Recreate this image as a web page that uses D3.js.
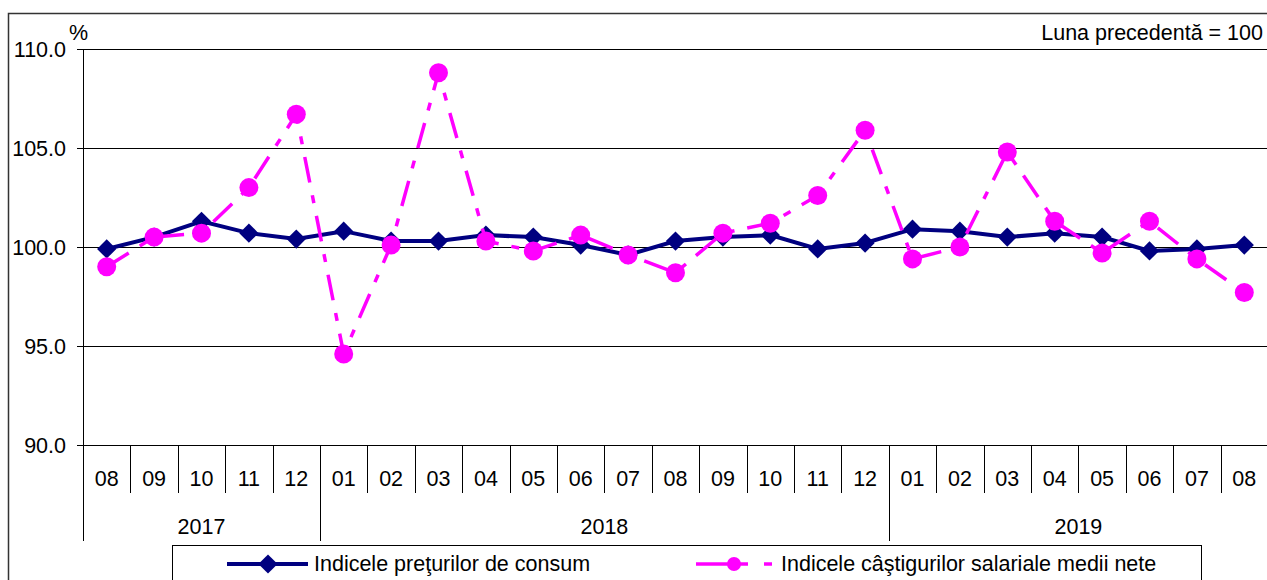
<!DOCTYPE html>
<meta charset="utf-8">
<script src="https://d3js.org/d3.v7.min.js"></script>
<style>
  body { margin: 0; background: #fff; }
  text { font-family: "Liberation Sans", Arial, sans-serif; font-size: 21.5px; fill: #000; }
</style>
<div id="chart"></div>
<script>

  // months shown on the axis, grouped by year
  var months = ["08","09","10","11","12",
                "01","02","03","04","05","06","07","08","09","10","11","12",
                "01","02","03","04","05","06","07","08"];
  var years = ["2017", "2018", "2019"];
  var monthsPerYear = [5, 12, 8];

  // Indicele preturilor de consum
  var cpi = [99.9, 100.5, 101.3, 100.7, 100.4,
             100.8, 100.3, 100.3, 100.6, 100.5, 100.1, 99.6, 100.3, 100.5, 100.6, 99.9, 100.2,
             100.9, 100.8, 100.5, 100.7, 100.5, 99.8, 99.9, 100.1];

  // Indicele castigurilor salariale medii nete
  var wages = [99.0, 100.5, 100.7, 103.0, 106.7,
               94.6, 100.1, 108.8, 100.3, 99.8, 100.6, 99.6, 98.7, 100.7, 101.2, 102.6, 105.9,
               99.4, 100.0, 104.8, 101.3, 99.7, 101.3, 99.4, 97.7];

  var yTicks = [90, 95, 100, 105, 110];
  var seriesNames = ["Indicele preţurilor de consum", "Indicele câştigurilor salariale medii nete"];

  var W = 1267, H = 580;
  var plotLeft = 83, plotRight = 1268, plotTop = 49, plotBottom = 445;

  var svg = d3.select("#chart").append("svg")
    .attr("width", W).attr("height", H);

  // outer frame
  svg.append("path")
    .attr("d", "M8.5," + H + "V13.5H" + W)
    .attr("fill", "none").attr("stroke", "#333").attr("stroke-width", 1.5);

  var keys = months.map(function(m, i) { return i; });
  var x = d3.scaleBand().domain(keys).range([plotLeft, plotRight]);
  var y = d3.scaleLinear().domain([90, 110]).range([plotBottom, plotTop]);

  // grid lines
  svg.append("g").selectAll("line")
    .data(yTicks).enter().append("line")
      .attr("x1", plotLeft - 6).attr("x2", plotRight)
      .attr("y1", function(d) { return Math.round(y(d)) + 0.5; })
      .attr("y2", function(d) { return Math.round(y(d)) + 0.5; })
      .attr("stroke", "#000").attr("stroke-width", 1);

  // y labels
  svg.append("g").selectAll("text")
    .data(yTicks).enter().append("text")
      .attr("x", 66).attr("y", function(d) { return y(d); })
      .attr("dy", "0.36em")
      .attr("text-anchor", "end")
      .text(function(d) { return d3.format(".1f")(d); });

  svg.append("text").attr("x", 69).attr("y", 40).text("%");
  svg.append("text").attr("x", 1263).attr("y", 40).attr("text-anchor", "end").text("Luna precedentă = 100");

  // y axis line
  svg.append("line")
    .attr("x1", plotLeft + 0.5).attr("x2", plotLeft + 0.5)
    .attr("y1", plotTop).attr("y2", 541)
    .attr("stroke", "#000");

  // month separators
  svg.append("g").selectAll("line")
    .data(keys.slice(1)).enter().append("line")
      .attr("x1", function(d) { return Math.round(x(d)) + 0.5; })
      .attr("x2", function(d) { return Math.round(x(d)) + 0.5; })
      .attr("y1", plotBottom).attr("y2", 493)
      .attr("stroke", "#000");

  // month labels
  svg.append("g").selectAll("text")
    .data(keys).enter().append("text")
      .attr("x", function(d) { return x(d) + x.bandwidth() / 2; })
      .attr("y", 486)
      .attr("text-anchor", "middle")
      .text(function(d) { return months[d]; });

  // year groups
  var starts = [0];
  monthsPerYear.forEach(function(n, i) { starts.push(starts[i] + n); });
  years.forEach(function(yr, i) {
    var x0 = x(starts[i]);
    var x1 = starts[i + 1] < months.length ? x(starts[i + 1]) : plotRight;
    if (i > 0) {
      svg.append("line")
        .attr("x1", Math.round(x0) + 0.5).attr("x2", Math.round(x0) + 0.5)
        .attr("y1", 493).attr("y2", 541).attr("stroke", "#000");
    }
    svg.append("text")
      .attr("x", (x0 + x1) / 2).attr("y", 534)
      .attr("text-anchor", "middle")
      .text(yr);
  });

  var cx = function(d, i) { return x(i) + x.bandwidth() / 2; };
  var line = d3.line().x(cx).y(function(d) { return y(d); });
  var diamond = d3.symbol(d3.symbolSquare, 185);
  var dash = "26,13,8,13";

  // CPI series
  svg.append("path")
    .datum(cpi)
    .attr("d", line)
    .attr("fill", "none").attr("stroke", "#000080").attr("stroke-width", 4);
  svg.append("g").selectAll("path")
    .data(cpi).enter().append("path")
      .attr("d", diamond)
      .attr("transform", function(d, i) { return "translate(" + cx(d, i) + "," + y(d) + ") rotate(45)"; })
      .attr("fill", "#000080");

  // wages series
  svg.append("path")
    .datum(wages)
    .attr("d", line)
    .attr("fill", "none").attr("stroke", "#ff00ff").attr("stroke-width", 3.5)
    .attr("stroke-dasharray", dash);
  svg.append("g").selectAll("circle")
    .data(wages).enter().append("circle")
      .attr("cx", cx).attr("cy", function(d) { return y(d); })
      .attr("r", 9.5)
      .attr("fill", "#ff00ff");

  // legend
  var lg = svg.append("g");
  lg.append("rect")
    .attr("x", 172.5).attr("y", 545.5).attr("width", 1029).attr("height", 60)
    .attr("fill", "#fff").attr("stroke", "#000");
  lg.append("line").attr("x1", 227).attr("x2", 308).attr("y1", 564).attr("y2", 564)
    .attr("stroke", "#000080").attr("stroke-width", 4);
  lg.append("path").attr("d", diamond)
    .attr("transform", "translate(268,564) rotate(45)").attr("fill", "#000080");
  lg.append("text").attr("x", 314).attr("y", 571).text(seriesNames[0]);

  lg.append("line").attr("x1", 696).attr("x2", 748).attr("y1", 564).attr("y2", 564)
    .attr("stroke", "#ff00ff").attr("stroke-width", 3.5);
  lg.append("line").attr("x1", 764).attr("x2", 772).attr("y1", 564).attr("y2", 564)
    .attr("stroke", "#ff00ff").attr("stroke-width", 3.5);
  lg.append("circle").attr("cx", 734).attr("cy", 564).attr("r", 7)
    .attr("fill", "#ff00ff");
  lg.append("text").attr("x", 781).attr("y", 571).text(seriesNames[1]);

</script>
